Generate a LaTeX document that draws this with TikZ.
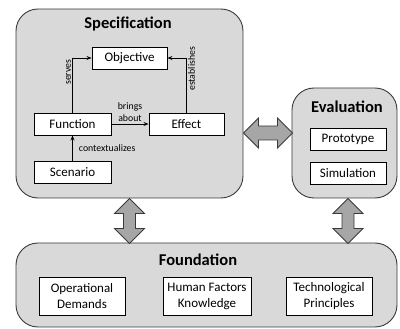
\documentclass[tikz,border=0pt]{standalone}
\usepackage{fontspec}
\setmainfont{Carlito}
\usetikzlibrary{arrows.meta}

\definecolor{panelgray}{HTML}{D9D9D9}
\definecolor{arrowgray}{HTML}{A6A6A6}
\definecolor{edgegray}{HTML}{3A3A3A}

\tikzset{
	panel/.style={draw=edgegray, line width=0.9pt, fill=panelgray, rounded corners=22pt, inner sep=0pt},
	title/.style={font=\fontsize{16.5}{18}\selectfont\bfseries},
	item/.style={draw=black, line width=0.9pt, fill=white, inner sep=0pt, minimum height=22pt, font=\fontsize{13}{16}\selectfont},
	bigitem/.style={item, minimum height=38pt, align=center},
	rel/.style={-{Stealth[length=5pt,width=4pt]}, line width=0.9pt},
	lbl/.style={font=\fontsize{9.8}{12}\selectfont, inner sep=1pt},
	blockarrow/.style={draw=edgegray, line width=0.8pt, fill=arrowgray, line join=miter}
}

\begin{document}
\begin{tikzpicture}[x=1pt, y=-1pt]
	\useasboundingbox (0,0) rectangle (400,329);
	% panels
	\node[panel, minimum width=227pt, minimum height=189pt] (spec) at (129.5,103.5) {};
	\node[panel, minimum width=105pt, minimum height=110pt] (eval) at (344.5,143) {};
	\node[panel, minimum width=381pt, minimum height=84pt] (found) at (206.5,285) {};
	\node[title] at (128,24) {Specification};
	\node[title] at (347,107) {Evaluation};
	\node[title] at (198,260) {Foundation};
	% specification
	\node[item, minimum width=75pt] (objective) at (129.5,58) {Objective};
	\node[item, minimum width=77pt] (function) at (72.5,124) {Function};
	\node[item, minimum width=75pt] (effect) at (186.5,124) {Effect};
	\node[item, minimum width=77pt] (scenario) at (72.5,172) {Scenario};
	\draw[rel] (function.north) |- node[lbl, pos=0.37, sloped, above] {serves} (objective.west);
	\draw[rel] (effect.north) |- node[lbl, pos=0.4, sloped, below] {establishes} (objective.east);
	\draw[rel] (function.east) -- node[lbl, above, align=center, yshift=1pt] {brings\\about} (effect.west);
	\draw[rel] (scenario.north) -- node[lbl, right, xshift=5pt] {contextualizes} (function.south);
	% evaluation
	\node[item, minimum width=76pt] (prototype) at (348,139) {Prototype};
	\node[item, minimum width=76pt] (simulation) at (348,173) {Simulation};
	% foundation
	\node[bigitem, minimum width=86pt] (demands) at (82,296) {Operational\\Demands};
	\node[bigitem, minimum width=88pt] (human) at (207,296) {Human Factors\\Knowledge};
	\node[bigitem, minimum width=86pt] (tech) at (329,296) {Technological\\Principles};
	% block arrows
	\draw[blockarrow] (spec.east |- 0,133) -- ++(15,-15) -- ++(0,8) -- ++(19,0) -- ++(0,-8)
		-- ++(15,15) -- ++(-15,15) -- ++(0,-8) -- ++(-19,0) -- ++(0,8) -- cycle;
	\draw[blockarrow] (spec.south) -- ++(15,15) -- ++(-9,0) -- ++(0,15) -- ++(9,0)
		-- ++(-15,15) -- ++(-15,-15) -- ++(9,0) -- ++(0,-15) -- ++(-9,0) -- cycle;
	\draw[blockarrow] (prototype |- eval.south) -- ++(15,15) -- ++(-9,0) -- ++(0,15) -- ++(9,0)
		-- ++(-15,15) -- ++(-15,-15) -- ++(9,0) -- ++(0,-15) -- ++(-9,0) -- cycle;
\end{tikzpicture}
\end{document}
